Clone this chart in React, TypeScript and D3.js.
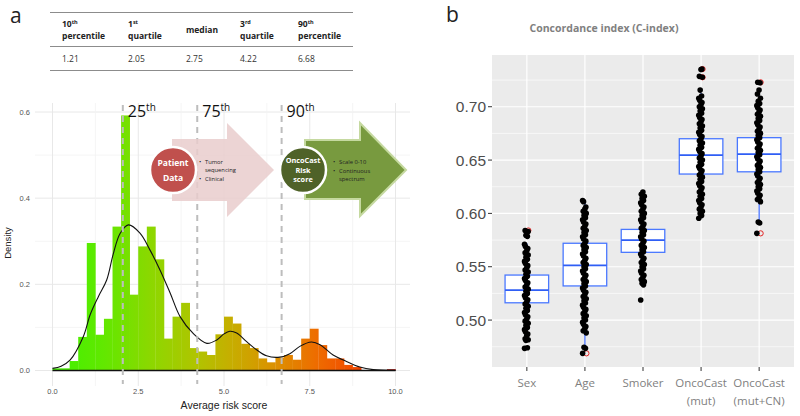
import { useEffect, useRef } from "react";
import * as d3 from "d3";

// ---- panel a: table of percentiles
const tableHeads = [["10", "th", "percentile"], ["1", "st", "quartile"], ["median", "", ""], ["3", "rd", "quartile"], ["90", "th", "percentile"]];
const tableValues = ["1.21", "2.05", "2.75", "4.22", "6.68"];

// ---- panel a: histogram (binwidth 0.25 from 0 to 10)
const binStarts = d3.range(0, 10, 0.25);
const histDensity = [0.005, 0.005, 0.022, 0.078, 0.296, 0.083, 0.12, 0.334, 0.592, 0.176,
  0.288, 0.334, 0.258, 0.074, 0.125, 0.157, 0.052, 0.044, 0.036, 0.084,
  0.125, 0.109, 0.062, 0.052, 0.028, 0.019, 0.03, 0.036, 0.025, 0.074,
  0.097, 0.059, 0.028, 0.028, 0.013, 0.008, 0, 0, 0, 0.003];

// density curve
const densX = [0, 0.25, 0.51, 0.9, 1.1, 1.34, 1.58, 1.77, 1.97, 2.21, 2.55, 2.84, 3.13, 3.43, 3.72, 4.1, 4.5, 4.79, 5.0, 5.17, 5.37, 5.66, 5.95, 6.24, 6.63, 6.92, 7.21, 7.55, 7.8, 8.18, 8.57, 8.96, 9.35, 10];
const densY = [0.005, 0.01, 0.024, 0.079, 0.13, 0.172, 0.21, 0.27, 0.318, 0.338, 0.319, 0.28, 0.234, 0.18, 0.125, 0.086, 0.063, 0.071, 0.085, 0.091, 0.087, 0.067, 0.048, 0.034, 0.031, 0.039, 0.056, 0.066, 0.06, 0.036, 0.021, 0.008, 0.002, 0];

const pctValues = [2.05, 4.22, 6.68];
const pctLabels = ["25", "75", "90"];
const xTicksA = [0, 2.5, 5, 7.5, 10];
const xMinorA = [1.25, 3.75, 6.25, 8.75];
const yTicksA = [0, 0.2, 0.4, 0.6];
const yMinorA = [0.1, 0.3, 0.5];

// ---- panel b: C-index boxplots
const categories = ["Sex", "Age", "Smoker", "OncoCast\n(mut)", "OncoCast\n(mut+CN)"];
const q1 = [0.5162, 0.532, 0.5635, 0.6369, 0.639];
const medians = [0.528, 0.5513, 0.575, 0.6547, 0.6556];
const q3 = [0.5422, 0.572, 0.585, 0.67, 0.671];
const whiskLo = [0.482, 0.4735, 0.533, 0.5955, 0.592];
const whiskHi = [0.572, 0.612, 0.62, 0.713, 0.716];
const outliers = [[0.584], [0.4688], [], [0.7353, 0.7276], [0.7229, 0.5813]];

const pointsSex = [0.4735, 0.474, 0.481, 0.4815, 0.4825, 0.4855, 0.487, 0.489, 0.491, 0.493,
  0.495, 0.497, 0.499, 0.501, 0.503, 0.505, 0.507, 0.509, 0.511, 0.513,
  0.515, 0.517, 0.519, 0.521, 0.523, 0.525, 0.527, 0.529, 0.531, 0.533,
  0.535, 0.537, 0.539, 0.541, 0.543, 0.545, 0.547, 0.549, 0.551, 0.553,
  0.555, 0.557, 0.559, 0.561, 0.563, 0.565, 0.567, 0.569, 0.571, 0.5785,
  0.5795, 0.583, 0.584];
const pointsAge = [0.4688, 0.4735, 0.4745, 0.488, 0.49, 0.492, 0.494, 0.496, 0.498, 0.5,
  0.502, 0.504, 0.506, 0.508, 0.51, 0.512, 0.514, 0.516, 0.518, 0.52,
  0.522, 0.524, 0.526, 0.528, 0.53, 0.532, 0.534, 0.536, 0.538, 0.54,
  0.542, 0.544, 0.546, 0.548, 0.55, 0.552, 0.554, 0.556, 0.558, 0.56,
  0.562, 0.564, 0.566, 0.568, 0.57, 0.572, 0.574, 0.576, 0.578, 0.58,
  0.582, 0.584, 0.586, 0.588, 0.59, 0.592, 0.594, 0.596, 0.598, 0.6,
  0.602, 0.604, 0.606, 0.611, 0.612];
const pointsSmoker = [0.5188, 0.533, 0.5345, 0.536, 0.538, 0.54, 0.542, 0.544, 0.546, 0.548,
  0.55, 0.552, 0.554, 0.556, 0.558, 0.56, 0.562, 0.564, 0.566, 0.568,
  0.57, 0.572, 0.574, 0.576, 0.578, 0.58, 0.582, 0.584, 0.586, 0.588,
  0.59, 0.592, 0.594, 0.596, 0.598, 0.6, 0.602, 0.604, 0.606, 0.608,
  0.61, 0.612, 0.614, 0.616, 0.618, 0.62];
const pointsMut = [0.5955, 0.598, 0.6, 0.602, 0.604, 0.606, 0.608, 0.61, 0.612, 0.614,
  0.616, 0.618, 0.62, 0.622, 0.624, 0.626, 0.628, 0.63, 0.632, 0.634,
  0.636, 0.638, 0.64, 0.642, 0.644, 0.646, 0.648, 0.65, 0.652, 0.654,
  0.656, 0.658, 0.66, 0.662, 0.664, 0.666, 0.668, 0.67, 0.672, 0.674,
  0.676, 0.678, 0.68, 0.682, 0.684, 0.686, 0.688, 0.69, 0.692, 0.694,
  0.696, 0.698, 0.7, 0.702, 0.704, 0.706, 0.708, 0.71, 0.7156, 0.7276,
  0.7285, 0.7348, 0.7353];
const pointsMutCN = [0.5813, 0.591, 0.592, 0.611, 0.613, 0.615, 0.617, 0.619, 0.621, 0.623,
  0.625, 0.627, 0.629, 0.631, 0.633, 0.635, 0.637, 0.639, 0.641, 0.643,
  0.645, 0.647, 0.649, 0.651, 0.653, 0.655, 0.657, 0.659, 0.661, 0.663,
  0.665, 0.667, 0.669, 0.671, 0.673, 0.675, 0.677, 0.679, 0.681, 0.683,
  0.685, 0.687, 0.689, 0.691, 0.693, 0.695, 0.697, 0.699, 0.701, 0.703,
  0.705, 0.708, 0.712, 0.7156, 0.7225, 0.7229];
const pointSets = [pointsSex, pointsAge, pointsSmoker, pointsMut, pointsMutCN];
const yTicksB = [0.5, 0.55, 0.6, 0.65, 0.7];
const yMinorB = [0.475, 0.525, 0.575, 0.625, 0.675, 0.725];

const FONT = "'Open Sans', 'Liberation Sans', sans-serif";
const ARIAL = "'Liberation Sans', Arial, sans-serif";

export default function App() {
  const svgRef = useRef<SVGSVGElement | null>(null);
  const width = 800;
  const height = 416;

  useEffect(() => {
    const svg = d3.select(svgRef.current);
    svg.selectAll("*").remove();

    // ===================== panel a =====================
    svg.append("text").attr("x", 10).attr("y", 23).style("font-family", FONT).style("font-size", "21px").style("fill", "#222").text("a");

    // table
    const colX = [62, 128, 186, 240, 298];
    [12.5, 46.5, 70.5].forEach((yy) => {
      svg.append("line").attr("x1", 50).attr("x2", 353).attr("y1", yy).attr("y2", yy)
        .attr("stroke", "#8c8c8c").attr("stroke-width", 1.2);
    });
    tableHeads.forEach((h, i) => {
      const g = svg.append("g").style("font-family", FONT).style("font-weight", "bold").style("font-size", "8.5px").style("fill", "#222");
      if (h[1] === "") {
        g.append("text").attr("x", colX[i]).attr("y", 32.5).text(h[0]);
      } else {
        const t = g.append("text").attr("x", colX[i]).attr("y", 26.5);
        t.append("tspan").text(h[0]);
        t.append("tspan").attr("dy", -3).style("font-size", "5.5px").text(h[1]);
        g.append("text").attr("x", colX[i]).attr("y", 38.5).text(h[2]);
      }
    });
    tableValues.forEach((v, i) => {
      svg.append("text").attr("x", colX[i]).attr("y", 61.5).style("font-family", FONT).style("font-size", "8.5px").style("fill", "#333").text(v);
    });

    // histogram scales
    const xA = d3.scaleLinear().domain([0, 10]).range([52.5, 395.5]);
    const yA = d3.scaleLinear().domain([0, 0.6]).range([370.5, 112]);

    const gA = svg.append("g");
    // grid
    yMinorA.forEach((t) => gA.append("line").attr("x1", 35).attr("x2", 410).attr("y1", yA(t)).attr("y2", yA(t)).attr("stroke", "#f2f2f2").attr("stroke-width", 0.8));
    yTicksA.forEach((t) => gA.append("line").attr("x1", 35).attr("x2", 410).attr("y1", yA(t)).attr("y2", yA(t)).attr("stroke", "#e8e8e8").attr("stroke-width", 1));
    xMinorA.forEach((t) => gA.append("line").attr("x1", xA(t)).attr("x2", xA(t)).attr("y1", 103).attr("y2", 386).attr("stroke", "#f2f2f2").attr("stroke-width", 0.8));
    xTicksA.forEach((t) => gA.append("line").attr("x1", xA(t)).attr("x2", xA(t)).attr("y1", 103).attr("y2", 386).attr("stroke", "#e8e8e8").attr("stroke-width", 1));

    // gradient for bars
    const defs = svg.append("defs");
    const grad = defs.append("linearGradient").attr("id", "riskGrad").attr("gradientUnits", "userSpaceOnUse")
      .attr("x1", xA(0)).attr("x2", xA(10)).attr("y1", 0).attr("y2", 0);
    [[0, "#3ef200"], [0.15, "#62e800"], [0.3, "#90d600"], [0.42, "#b0c400"], [0.52, "#c6ae00"], [0.65, "#dc9000"], [0.77, "#ee6c00"], [0.88, "#f24c00"], [0.94, "#d82000"], [1, "#900000"]]
      .forEach(([o, c]) => grad.append("stop").attr("offset", o as number).attr("stop-color", c as string));

    gA.selectAll(".bar").data(histDensity).join("rect").attr("class", "bar")
      .attr("x", (_, i) => xA(binStarts[i]))
      .attr("width", xA(0.25) - xA(0) + 0.3)
      .attr("y", (d) => yA(d))
      .attr("height", (d) => yA(0) - yA(d))
      .attr("fill", "url(#riskGrad)");

    // density curve with baseline
    const densPts = densX.map((v, i) => [v, densY[i]] as [number, number]);
    const line = d3.line<[number, number]>().x((d) => xA(d[0])).y((d) => yA(d[1])).curve(d3.curveCatmullRom);
    gA.append("path").attr("d", line(densPts)).attr("fill", "none").attr("stroke", "#111").attr("stroke-width", 1.1);
    gA.append("line").attr("x1", xA(0)).attr("x2", xA(10)).attr("y1", yA(0)).attr("y2", yA(0)).attr("stroke", "#111").attr("stroke-width", 1.3);

    // percentile dashed lines
    pctValues.forEach((v) => {
      gA.append("line").attr("x1", xA(v)).attr("x2", xA(v)).attr("y1", 105).attr("y2", 384)
        .attr("stroke", "#bdbdbd").attr("stroke-width", 2).attr("stroke-dasharray", "6,5");
    });

    // axes labels
    xTicksA.forEach((t) => {
      gA.append("text").attr("x", xA(t)).attr("y", 394).attr("text-anchor", "middle")
        .style("font-family", ARIAL).style("font-size", "7.5px").style("fill", "#555").text(d3.format(".1f")(t));
    });
    yTicksA.forEach((t) => {
      gA.append("text").attr("x", 30).attr("y", yA(t) + 2.5).attr("text-anchor", "end")
        .style("font-family", ARIAL).style("font-size", "7.5px").style("fill", "#555").text(d3.format(".1f")(t));
    });
    gA.append("text").attr("x", 224).attr("y", 408.5).attr("text-anchor", "middle")
      .style("font-family", ARIAL).style("font-size", "10.5px").style("fill", "#222").text("Average risk score");
    gA.append("text").attr("transform", "translate(11,243) rotate(-90)").attr("text-anchor", "middle")
      .style("font-family", ARIAL).style("font-size", "9.5px").style("fill", "#222").text("Density");

    // arrows (pink, green)
    const arrow = (x0: number, xh: number, xt: number, bt: number, bb: number, ht: number, hb: number, cy: number) =>
      `M${x0},${bt} L${xh},${bt} L${xh},${ht} L${xt},${cy} L${xh},${hb} L${xh},${bb} L${x0},${bb} Z`;
    gA.append("path").attr("d", arrow(172, 227, 274, 139, 201, 123, 217, 170)).attr("fill", "#e9cccc").attr("opacity", 0.85);
    gA.append("path").attr("d", arrow(305, 360, 406, 140, 199, 123, 216, 170)).attr("fill", "#789a3f").attr("stroke", "#c5d9a0").attr("stroke-width", 2);

    gA.append("circle").attr("cx", 173).attr("cy", 170).attr("r", 23).attr("fill", "#c0504d").attr("stroke", "#fff").attr("stroke-width", 2.5);
    gA.append("circle").attr("cx", 303).attr("cy", 170).attr("r", 23).attr("fill", "#4f6228").attr("stroke", "#fff").attr("stroke-width", 2.5);

    const circleText = (x: number, lines: string[], ys: number[], size: number) => {
      lines.forEach((s, i) => gA.append("text").attr("x", x).attr("y", ys[i]).attr("text-anchor", "middle")
        .style("font-family", FONT).style("font-weight", "bold").style("font-size", `${size}px`).style("fill", "#fff").text(s));
    };
    circleText(173, ["Patient", "Data"], [165.5, 180.5], 8.5);
    circleText(303, ["OncoCast", "Risk", "score"], [162.5, 172.5, 182], 7.3);

    const bullets = (x: number, items: [string, boolean][], ys: number[]) => {
      items.forEach(([s, b], i) => {
        if (b) gA.append("text").attr("x", x).attr("y", ys[i]).style("font-family", FONT).style("font-size", "6px").style("fill", "#222").text("•");
        gA.append("text").attr("x", x + 6).attr("y", ys[i]).style("font-family", FONT).style("font-size", "5.8px").style("fill", "#222").text(s);
      });
    };
    bullets(199, [["Tumor", true], ["sequencing", false], ["Clinical", true]], [164, 172, 180.5]);
    bullets(333, [["Scale 0-10", true], ["Continuous", true], ["spectrum", false]], [164, 173, 180.5]);

    // percentile labels
    pctValues.forEach((v, i) => {
      const t = gA.append("text").attr("x", xA(v) + 5).attr("y", 117).style("font-family", FONT).style("font-size", "16px").style("fill", "#111");
      t.append("tspan").text(pctLabels[i]);
      t.append("tspan").attr("dy", -6).style("font-size", "10px").text("th");
    });

    // ===================== panel b =====================
    svg.append("text").attr("x", 446).attr("y", 22).style("font-family", FONT).style("font-size", "21px").style("fill", "#222").text("b");
    svg.append("text").attr("x", 604).attr("y", 32).attr("text-anchor", "middle")
      .style("font-family", FONT).style("font-weight", "bold").style("font-size", "10.5px").style("fill", "#808080").text("Concordance index (C-index)");

    const xB = d3.scalePoint<string>().domain(categories).range([492, 794]).padding(0.6);
    const yB = d3.scaleLinear().domain([0.456, 0.7485]).range([367, 55]);
    const step = xB.step();
    const gB = svg.append("g");
    gB.append("rect").attr("x", 492).attr("y", 55).attr("width", 302).attr("height", 312).attr("fill", "#ebebeb");
    yMinorB.forEach((t) => gB.append("line").attr("x1", 492).attr("x2", 794).attr("y1", yB(t)).attr("y2", yB(t)).attr("stroke", "#fff").attr("stroke-width", 0.6));
    yTicksB.forEach((t) => gB.append("line").attr("x1", 492).attr("x2", 794).attr("y1", yB(t)).attr("y2", yB(t)).attr("stroke", "#fff").attr("stroke-width", 1.2));
    categories.forEach((c) => gB.append("line").attr("x1", xB(c)!).attr("x2", xB(c)!).attr("y1", 55).attr("y2", 367).attr("stroke", "#fff").attr("stroke-width", 1.2));

    const boxW = step * 0.75;
    categories.forEach((c, i) => {
      const cx = xB(c)!;
      gB.append("line").attr("x1", cx).attr("x2", cx).attr("y1", yB(whiskLo[i])).attr("y2", yB(q1[i])).attr("stroke", "#3d6bff").attr("stroke-width", 1.2);
      gB.append("line").attr("x1", cx).attr("x2", cx).attr("y1", yB(whiskHi[i])).attr("y2", yB(q3[i])).attr("stroke", "#3d6bff").attr("stroke-width", 1.2);
      gB.append("rect").attr("x", cx - boxW / 2).attr("y", yB(q3[i])).attr("width", boxW).attr("height", yB(q1[i]) - yB(q3[i]))
        .attr("fill", "#fff").attr("stroke", "#4a78ff").attr("stroke-width", 1.3);
      gB.append("line").attr("x1", cx - boxW / 2).attr("x2", cx + boxW / 2).attr("y1", yB(medians[i])).attr("y2", yB(medians[i]))
        .attr("stroke", "#2f5ef5").attr("stroke-width", 1.8);
      // outliers (red) drawn under the points
      outliers[i].forEach((o) => gB.append("circle").attr("cx", cx + 1.5).attr("cy", yB(o)).attr("r", 2.6).attr("fill", "none").attr("stroke", "#e01010").attr("stroke-width", 0.9));
    });
    const jitter = [-1.8, 1.0, -0.4, 1.8, -1.2, 0.4, 1.4, -0.9];
    categories.forEach((c, i) => {
      const cx = xB(c)!;
      gB.selectAll(`.pt${i}`).data(pointSets[i]).join("circle").attr("class", `pt${i}`)
        .attr("cx", (_, j) => cx - 0.5 + jitter[j % jitter.length])
        .attr("cy", (d) => yB(d)).attr("r", 2.8).attr("fill", "#000");
    });

    // axes b
    yTicksB.forEach((t) => {
      gB.append("line").attr("x1", 488).attr("x2", 492).attr("y1", yB(t)).attr("y2", yB(t)).attr("stroke", "#333").attr("stroke-width", 1);
      gB.append("text").attr("x", 486).attr("y", yB(t) + 5.5).attr("text-anchor", "end")
        .style("font-family", ARIAL).style("font-size", "15.5px").style("fill", "#4d4d4d").text(d3.format(".2f")(t));
    });
    categories.forEach((c) => {
      const cx = xB(c)!;
      gB.append("line").attr("x1", cx).attr("x2", cx).attr("y1", 367).attr("y2", 371).attr("stroke", "#333").attr("stroke-width", 1);
      c.split("\n").forEach((s, k) => gB.append("text").attr("x", cx).attr("y", 387 + k * 17.5).attr("text-anchor", "middle")
        .style("font-family", FONT).style("font-size", "11.5px").style("fill", "#7f7f7f").text(s));
    });
  }, []);

  return (
    <svg
      ref={svgRef}
      width={width}
      height={height}
      style={{ position: "absolute", left: 0, top: 0, backgroundColor: "#ffffff" }}
    />
  );
}
